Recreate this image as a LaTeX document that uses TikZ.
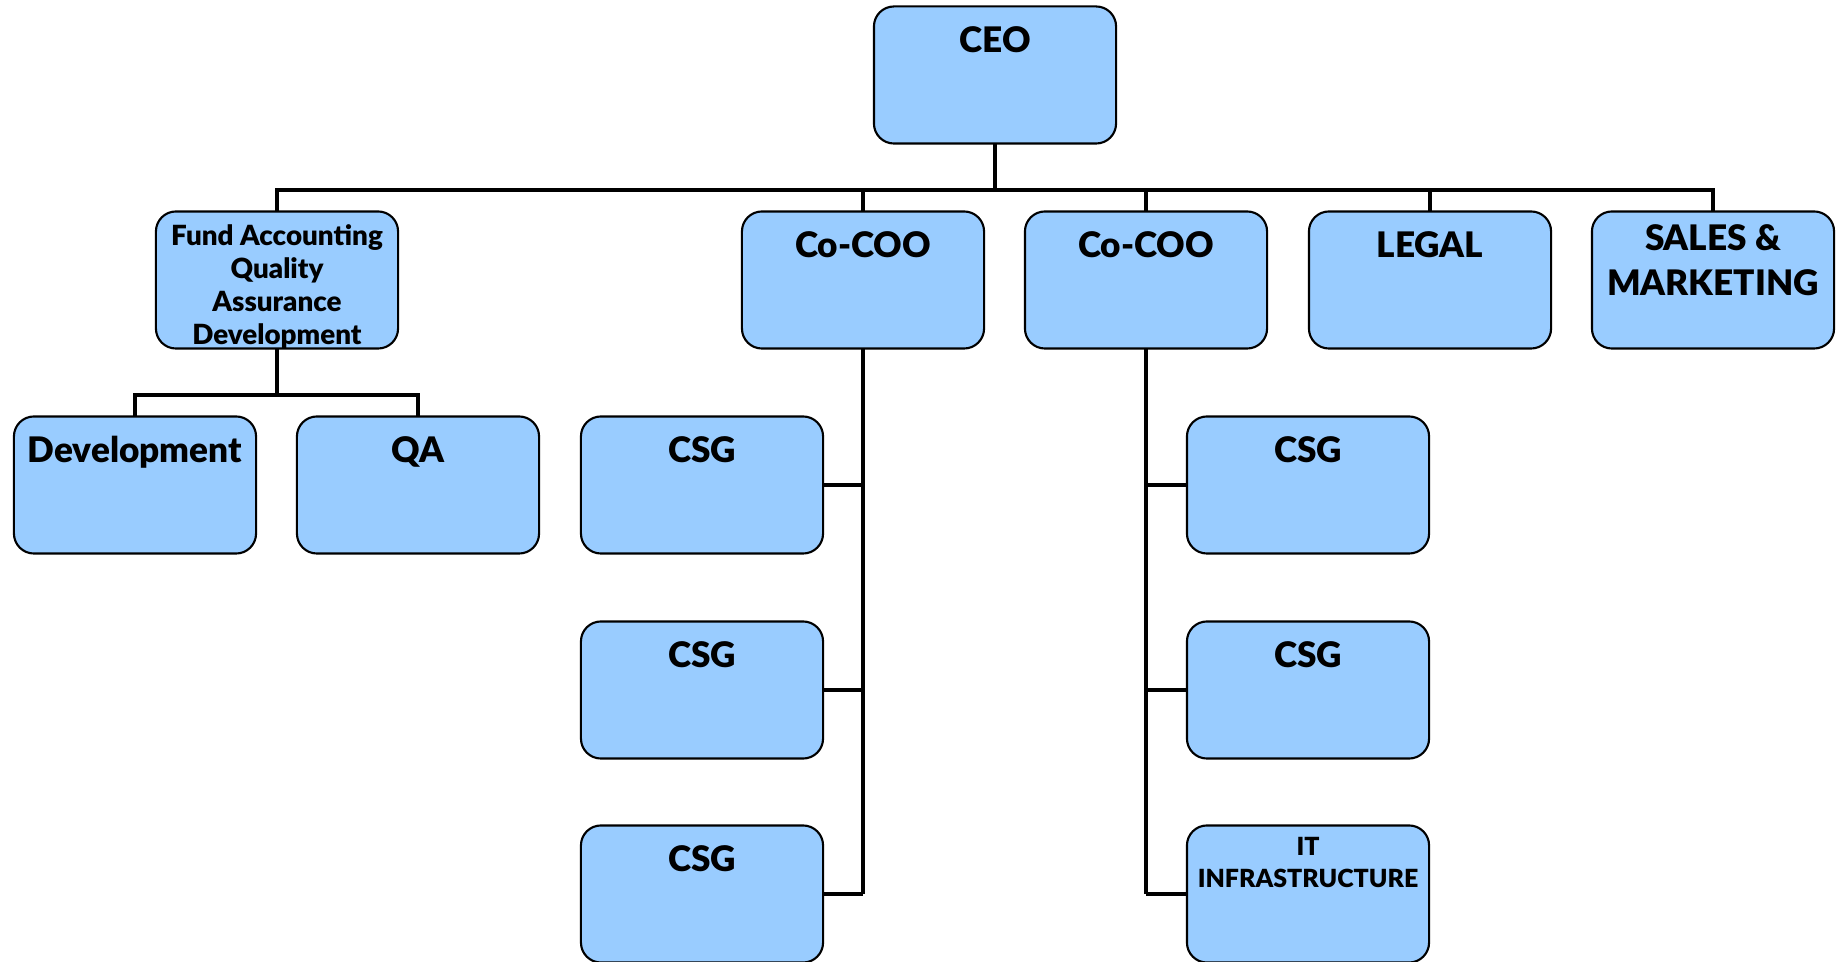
\documentclass[tikz,border=0pt]{standalone}
\usepackage{fontspec}
\setmainfont{Lato}[BoldFont={Lato Black}]
\usetikzlibrary{positioning}
\definecolor{unitBlue}{RGB}{153,204,255}

\begin{document}
\begin{tikzpicture}[x=0.01cm, y=-0.01cm,
    unit/.style={draw=black, line width=0.6pt, fill=unitBlue, rounded corners=0.2cm, minimum width=2.42cm, minimum height=1.37cm, inner sep=0pt, outer sep=0pt},
    unitText/.style={anchor=north, inner sep=0pt, align=center, font=\bfseries\fontsize{10}{13}\selectfont},
    smallText/.style={unitText, font=\bfseries\fontsize{7.9}{9.4}\selectfont},
    tinyText/.style={unitText, font=\bfseries\fontsize{7.1}{9}\selectfont},
    link/.style={black, line width=0.9pt}]
\useasboundingbox (0,0) rectangle (1840,962);

\node[unit, label={[unitText, yshift=-0.19cm]north:CEO}] (ceoBox) at (995,75) {};

\node[unit, label={[smallText, yshift=-0.12cm]north:Fund Accounting\\Quality\\Assurance\\Development}] (fundBox) at (277,280) {};
\node[unit, label={[unitText, yshift=-0.19cm]north:Co-COO}] (cooA) at (863,280) {};
\node[unit, label={[unitText, yshift=-0.19cm]north:Co-COO}] (cooB) at (1146,280) {};
\node[unit, label={[unitText, yshift=-0.19cm]north:LEGAL}] (legalBox) at (1430,280) {};
\node[unit, label={[unitText, yshift=-0.12cm]north:SALES \&\\MARKETING}] (salesBox) at (1713,280) {};

\node[unit, label={[unitText, yshift=-0.19cm]north:Development}] (devBox) at (135,485) {};
\node[unit, label={[unitText, yshift=-0.19cm]north:QA}] (qaBox) at (418,485) {};

\node[unit, label={[unitText, yshift=-0.19cm]north:CSG}] (csgA1) at (702,485) {};
\node[unit, label={[unitText, yshift=-0.19cm]north:CSG}] (csgA2) at (702,690) {};
\node[unit, label={[unitText, yshift=-0.19cm]north:CSG}] (csgA3) at (702,894) {};

\node[unit, label={[unitText, yshift=-0.19cm]north:CSG}] (csgB1) at (1308,485) {};
\node[unit, label={[unitText, yshift=-0.19cm]north:CSG}] (csgB2) at (1308,690) {};
\node[unit, label={[tinyText, yshift=-0.11cm]north:IT\\INFRASTRUCTURE}] (itBox) at (1308,894) {};

\coordinate (ceoBus) at (995,190);
\draw[link] (ceoBox.south) -- (ceoBus);
\draw[link] (fundBox.north) |- (ceoBus) -| (salesBox.north);
\draw[link] (cooA.north) -- (cooA.north |- ceoBus);
\draw[link] (cooB.north) -- (cooB.north |- ceoBus);
\draw[link] (legalBox.north) -- (legalBox.north |- ceoBus);

\coordinate (fundBus) at (277,395);
\draw[link] (fundBox.south) -- (fundBus);
\draw[link] (devBox.north) |- (fundBus) -| (qaBox.north);

\draw[link] (cooA.south) -- (cooA.south |- csgA3.east);
\foreach \n in {csgA1, csgA2, csgA3}
    \draw[link] (\n.east) -- (\n.east -| cooA.south);

\draw[link] (cooB.south) -- (cooB.south |- itBox.west);
\foreach \n in {csgB1, csgB2, itBox}
    \draw[link] (\n.west) -- (\n.west -| cooB.south);

\end{tikzpicture}
\end{document}
